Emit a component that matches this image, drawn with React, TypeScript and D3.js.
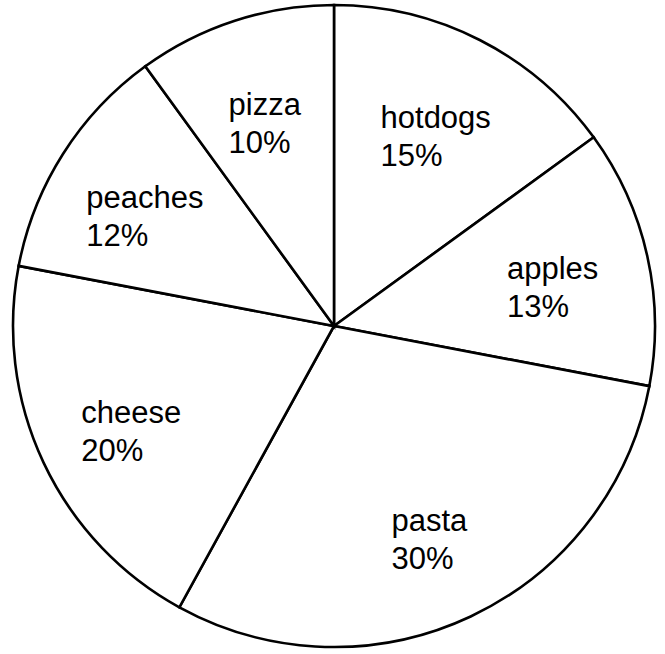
import React from "react";
import * as d3 from "d3";

const categories = ["hotdogs", "apples", "pasta", "cheese", "peaches", "pizza"];
const values = [15, 13, 30, 20, 12, 10];

const W = 665;
const H = 654;
const CX = 334;
const CY = 326;
const R = 321;
const LABEL_R = 224;
const FONT_SIZE = 31;
const LINE_H = 38;
const FONT = `${FONT_SIZE}px 'Liberation Sans', Arial, Helvetica, sans-serif`;

function measure(text: string): number {
  const c = document.createElement("canvas");
  const ctx = c.getContext("2d");
  if (!ctx) return text.length * FONT_SIZE * 0.55;
  ctx.font = FONT;
  return ctx.measureText(text).width;
}

export default function App() {
  const data = categories.map((c, i) => ({ name: c, value: values[i] }));
  const pie = d3
    .pie<{ name: string; value: number }>()
    .sort(null)
    .value((d) => d.value)
    .startAngle(0)
    .endAngle(2 * Math.PI);
  const arcs = pie(data);
  const arc = d3.arc<d3.PieArcDatum<{ name: string; value: number }>>().innerRadius(0).outerRadius(R);
  const labelArc = d3
    .arc<d3.PieArcDatum<{ name: string; value: number }>>()
    .innerRadius(LABEL_R)
    .outerRadius(LABEL_R);

  return (
    <div style={{ position: "fixed", left: 0, top: 0, width: W, height: H, background: "#fff" }}>
      <svg width={W} height={H} style={{ display: "block" }}>
        <g transform={`translate(${CX},${CY})`}>
          {arcs.map((a, i) => (
            <path
              key={i}
              d={arc(a) || ""}
              fill="#fff"
              stroke="#000"
              strokeWidth={2.6}
              strokeLinejoin="miter"
            />
          ))}
          {arcs.map((a, i) => {
            const [x, y] = labelArc.centroid(a);
            const l1 = a.data.name;
            const l2 = `${a.data.value}%`;
            const w = Math.max(measure(l1), measure(l2));
            const left = x - w / 2;
            const b1 = y + 2;
            return (
              <text
                key={`t${i}`}
                fontFamily="'Liberation Sans', Arial, Helvetica, sans-serif"
                fontSize={FONT_SIZE}
                fill="#000"
              >
                <tspan x={left} y={b1}>
                  {l1}
                </tspan>
                <tspan x={left} y={b1 + LINE_H}>
                  {l2}
                </tspan>
              </text>
            );
          })}
        </g>
      </svg>
    </div>
  );
}
